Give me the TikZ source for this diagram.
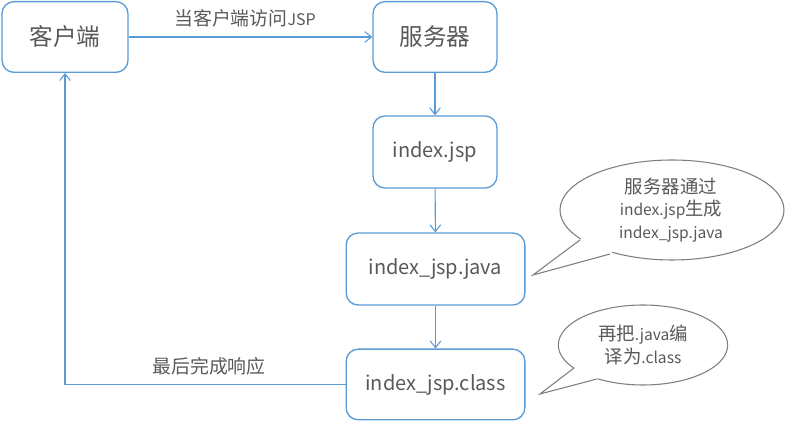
\documentclass[tikz,border=0pt]{standalone}
\usepackage{fontspec}
\setmainfont{Noto Sans CJK SC}
\newfontfamily\cjk[Scale=1.18]{Noto Sans CJK SC}
\usetikzlibrary{arrows.meta,shapes.geometric}
\definecolor{boxblue}{HTML}{5B9BD5}
\definecolor{txtgray}{HTML}{595959}
\definecolor{bubgray}{HTML}{7F7F7F}
\tikzset{
  flowbox/.style={draw=boxblue, line width=1pt, rounded corners=9pt, fill=white,
    text=txtgray, inner sep=0pt, minimum height=53pt, font=\fontsize{15}{18}\selectfont},
  conn/.style={draw=boxblue, line width=0.8pt, -{Straight Barb[length=5pt,width=8pt]}},
  lbl/.style={text=txtgray, font=\fontsize{12}{14}\selectfont, inner sep=0pt},
  bubble/.style={ellipse, draw=bubgray, line width=0.8pt, fill=white, inner sep=0pt},
  bubtext/.style={text=txtgray, align=center, font=\fontsize{11.7}{17}\selectfont},
}
\begin{document}
\begin{tikzpicture}[x=0.75pt,y=-0.75pt]
\useasboundingbox (0,0) rectangle (786,423);
\node[flowbox, minimum width=94.5pt] (client) at (65,37) {\cjk 客户端};
\node[flowbox, minimum width=93pt] (server) at (435,37) {\cjk 服务器};
\node[flowbox, minimum width=93pt, minimum height=54pt] (jsp) at (435,152) {index.jsp};
\node[flowbox, minimum width=134pt, minimum height=54pt] (java) at (435.5,269) {index\_jsp.java};
\node[flowbox, minimum width=134pt] (class) at (435.5,384.5) {index\_jsp.class};

\draw[conn] (client) -- (server);
\draw[conn] (server) -- (jsp);
\draw[conn] (jsp) -- (java);
\draw[conn] (java) -- (class);
\draw[conn] (class.west) -| (client.south);

\node[lbl] (l1) at (245,18) {{\cjk 当客户端访问}JSP};
\node[lbl] (l2) at (209,366) {\cjk 最后完成响应};

% callout 1
\node[bubble, minimum width=168pt, minimum height=75pt] (b1) at (672,210) {};
\coordinate (t1) at (533,275);
\coordinate (p1a) at (580,240);
\coordinate (p1b) at (610,254);
\fill[white] (p1a) -- (t1) -- (p1b) -- ([shift={(3,-3)}]p1b) -- ([shift={(3,-3)}]p1a) -- cycle;
\draw[bubgray, line width=0.8pt, line join=miter] (p1a) -- (t1) -- (p1b);
\node[bubtext] (b1t) at (671,210) {{\cjk 服务器通过}\\index.jsp{\cjk 生成}\\index\_jsp.java};

% callout 2
\node[bubble, minimum width=127pt, minimum height=60pt] (b2) at (643,345) {};
\coordinate (t2) at (540,394);
\coordinate (p2a) at (574,368);
\coordinate (p2b) at (597,379);
\fill[white] (p2a) -- (t2) -- (p2b) -- ([shift={(3,-3)}]p2b) -- ([shift={(3,-3)}]p2a) -- cycle;
\draw[bubgray, line width=0.8pt, line join=miter] (p2a) -- (t2) -- (p2b);
\node[bubtext] (b2t) at (643,345) {{\cjk 再把}.java{\cjk 编}\\{\cjk 译为}.class};
\end{tikzpicture}
\end{document}
